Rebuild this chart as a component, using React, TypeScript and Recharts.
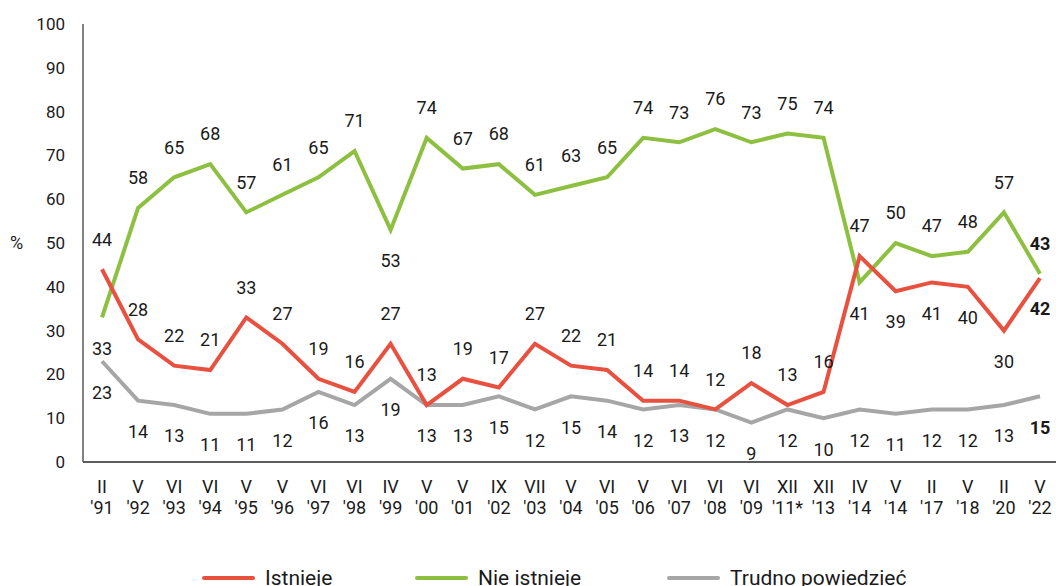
import { LineChart, Line, XAxis, YAxis, Legend, LabelList } from "recharts";

const months = ["II", "V", "VI", "VI", "V", "V", "VI", "VI", "IV", "V", "V", "IX", "VII", "V", "VI", "V", "VI", "VI", "VI", "XII", "XII", "IV", "V", "II", "V", "II", "V"];
const years = ["'91", "'92", "'93", "'94", "'95", "'96", "'97", "'98", "'99", "'00", "'01", "'02", "'03", "'04", "'05", "'06", "'07", "'08", "'09", "'11*", "'13", "'14", "'14", "'17", "'18", "'20", "'22"];

const istnieje = [44, 28, 22, 21, 33, 27, 19, 16, 27, 13, 19, 17, 27, 22, 21, 14, 14, 12, 18, 13, 16, 47, 39, 41, 40, 30, 42];
const nieIstnieje = [33, 58, 65, 68, 57, 61, 65, 71, 53, 74, 67, 68, 61, 63, 65, 74, 73, 76, 73, 75, 74, 41, 50, 47, 48, 57, 43];
const trudno = [23, 14, 13, 11, 11, 12, 16, 13, 19, 13, 13, 15, 12, 15, 14, 12, 13, 12, 9, 12, 10, 12, 11, 12, 12, 13, 15];

const yTicks = [0, 10, 20, 30, 40, 50, 60, 70, 80, 90, 100];

// which labels sit under the line
const redBelow = [22, 23, 24, 25, 26];
const greenBelow = [0, 8, 21];

const RED = "#E8503F";
const GREEN = "#8DC040";
const GREY = "#A6A6A6";
const FONT = "Roboto, sans-serif";

const data = months.map((m, i) => ({
  month: m,
  year: years[i],
  key: i,
  istnieje: istnieje[i],
  nieIstnieje: nieIstnieje[i],
  trudno: trudno[i],
}));

const last = data.length - 1;

const makeLabel = (below: number[] | "all") => (props: any) => {
  const { x, y, value, index } = props;
  const under = below === "all" || below.includes(index);
  return (
    <text
      x={x}
      y={under ? y + 31 : y - 30}
      dy="0.35em"
      textAnchor="middle"
      fontSize={18}
      fontFamily={FONT}
      fontWeight={index === last ? 700 : 400}
      fill="#1a1a1a"
    >
      {value}
    </text>
  );
};

const XTick = (props: any) => {
  const { x, payload } = props;
  const d = data[payload.value];
  return (
    <text x={x} y={462} textAnchor="middle" fontSize={18} fontFamily={FONT} fill="#1a1a1a">
      <tspan x={x} dy={31}>{d.month}</tspan>
      <tspan x={x} dy={21}>{d.year}</tspan>
    </text>
  );
};

const legendItems = [
  { name: "Istnieje", color: RED, left: 0 },
  { name: "Nie istnieje", color: GREEN, left: 213 },
  { name: "Trudno powiedzieć", color: GREY, left: 465 },
];

const LegendBox = () => (
  <div style={{ position: "relative", height: 24, fontFamily: FONT, fontSize: 21, color: "#1a1a1a", lineHeight: "24px" }}>
    {legendItems.map((it) => (
      <div key={it.name} style={{ position: "absolute", left: it.left, top: 0, display: "flex", alignItems: "center", whiteSpace: "nowrap" }}>
        <span style={{ display: "inline-block", width: 53, height: 4, background: it.color, borderRadius: 2, marginRight: 10 }} />
        <span>{it.name}</span>
      </div>
    ))}
  </div>
);

export default function App() {
  return (
    <div style={{ position: "absolute", left: 0, top: 0, width: 1056, height: 586, background: "#fff", overflow: "hidden" }}>
      <LineChart
        width={1056}
        height={586}
        data={data}
        margin={{ top: 24, right: 0, bottom: 62, left: 0 }}
        style={{ fontFamily: FONT }}
      >
        <XAxis
          dataKey="key"
          type="category"
          interval={0}
          tick={<XTick />}
          tickLine={false}
          axisLine={{ stroke: "#262626", strokeWidth: 1.5 }}
          padding={{ left: 19, right: 16 }}
          height={62}
        />
        <YAxis
          domain={[0, 100]}
          ticks={yTicks}
          interval={0}
          width={83}
          tickLine={false}
          tickSize={6}
          tickMargin={12}
          axisLine={{ stroke: "#595959", strokeWidth: 1.5 }}
          tick={{ fill: "#1a1a1a", fontSize: 17, fontFamily: FONT }}
          label={{ value: "%", position: "insideLeft", offset: 10, fill: "#1a1a1a", fontSize: 18, fontFamily: FONT }}
        />
        <Legend
          layout="horizontal"
          verticalAlign="middle"
          align="center"
          wrapperStyle={{ top: 566, left: 202, width: 854 }}
          content={<LegendBox />}
        />
        <Line dataKey="trudno" name="Trudno powiedzieć" stroke={GREY} strokeWidth={4} dot={false} isAnimationActive={false}>
          <LabelList dataKey="trudno" content={makeLabel("all")} />
        </Line>
        <Line dataKey="nieIstnieje" name="Nie istnieje" stroke={GREEN} strokeWidth={4} dot={false} isAnimationActive={false}>
          <LabelList dataKey="nieIstnieje" content={makeLabel(greenBelow)} />
        </Line>
        <Line dataKey="istnieje" name="Istnieje" stroke={RED} strokeWidth={4} dot={false} isAnimationActive={false}>
          <LabelList dataKey="istnieje" content={makeLabel(redBelow)} />
        </Line>
      </LineChart>
    </div>
  );
}
